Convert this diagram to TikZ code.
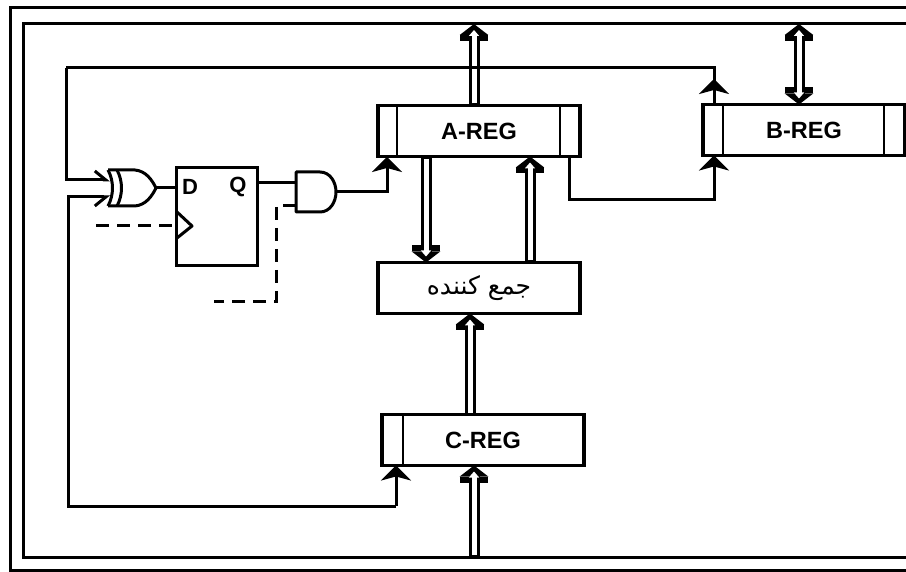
\documentclass[tikz,border=0pt]{standalone}
\usepackage{fontspec}
\setmainfont{Liberation Sans}
\newfontfamily\arabicfont[Script=Arabic]{DejaVu Sans}
\TeXXeTstate=1
\usetikzlibrary{arrows.meta,positioning}
\tikzset{
  wire/.style={line width=3pt},
  sigarrow/.style={wire, -{Stealth[length=15pt,width=30pt,inset=4pt]}},
  gate/.style={line width=3pt, line join=round},
  dashwire/.style={wire, dash pattern=on 13pt off 8pt},
  regbox/.style={draw, line width=3.5pt, inner sep=0pt, outer sep=0pt, minimum width=202pt, minimum height=51pt, font=\bfseries\fontsize{23.5}{24}\selectfont},
  bushead/.style={-{Rectangle[length=6pt,width=28pt,sep=0pt]Triangle[length=11pt,width=28pt,sep=0pt]}},
  businner/.style={draw, white, line width=5pt, shorten <=2pt, shorten >=6pt, -{Triangle[length=6pt,width=10pt]}},
  bus/.style={line width=11pt, bushead, postaction={businner}},
  busboth/.style={line width=11pt,
    {Triangle[length=11pt,width=28pt,sep=0pt]Rectangle[length=6pt,width=28pt,sep=0pt]}-{Rectangle[length=6pt,width=28pt,sep=0pt]Triangle[length=11pt,width=28pt,sep=0pt]},
    postaction={draw, white, line width=5pt, shorten <=6pt, shorten >=6pt, {Triangle[length=6pt,width=10pt]}-{Triangle[length=6pt,width=10pt]}}},
}
\begin{document}
\begin{tikzpicture}[x=1pt, y=-1pt]
\useasboundingbox (0,0) rectangle (906,572);
% frames
\draw[wire] (906,8) -- (10,8) -- (10,570) -- (906,570);
\draw[wire] (906,24) -- (23,24) -- (23,557) -- (906,557);
\coordinate (topbus) at (474,24);
\coordinate (topbusb) at (799,24);
\coordinate (lowbus) at (474,557);
% registers
\node[regbox] (areg) at (479,131) {A-REG};
\node[regbox] (breg) at (804,130) {B-REG};
\node[regbox] (creg) at (483,440) {C-REG};
\node[regbox] (adder) at (479,288) {\arabicfont\mdseries\fontsize{25}{25}\selectfont\beginR جمع کننده\endR};
\foreach \x in {397,560} \draw[line width=2pt] (\x,105) -- (\x,157);
\foreach \x in {723,884} \draw[line width=2pt] (\x,104) -- (\x,156);
\draw[line width=2pt] (403,414) -- (403,466);
% flip-flop
\node[draw, line width=3pt, inner sep=0pt, outer sep=0pt, minimum width=81pt, minimum height=98pt] (dff) at (216.5,217) {};
\node[font=\bfseries\fontsize{22}{22}\selectfont] (dlabel) at (190,187) {D};
\node[font=\bfseries\fontsize{22}{22}\selectfont] (qlabel) at (238,187) {Q};
\draw[gate] (177,212) -- (192,226) -- (177,238);
% gates
\draw[gate] (108,170) -- (135,170) .. controls (146,171) and (152,180) .. (156,188) .. controls (152,196) and (146,205) .. (135,206) -- (108,206);
\draw[gate] (108,170) .. controls (114,181) and (114,195) .. (108,206);
\draw[gate] (117,170) .. controls (123,181) and (123,195) .. (117,206);
\draw[gate] (296,172) -- (320,172) .. controls (330,172) and (336,182) .. (336,192) .. controls (336,202) and (330,212) .. (320,212) -- (296,212) -- cycle;
\coordinate (xorout) at (156,188);
\coordinate (xorin) at (110,180);
\coordinate (xorinb) at (110,197);
\coordinate (andinq) at (296,183);
\coordinate (andinck) at (296,206);
\coordinate (andout) at (336,192);
\coordinate (clka) at (96,226);
\coordinate (clkb) at (214,302);
% buses
\draw[bus] (areg.north -| topbus) -- (topbus);
\draw[busboth] (breg.north -| topbusb) -- (topbusb);
\draw[bus] (426,157) -- (adder.north -| 426,0);
\draw[bus] (adder.north -| 530,0) -- (areg.south -| 530,0);
\draw[bus] (creg.north -| 470,0) -- (adder.south -| 470,0);
\draw[bus] (lowbus) -- (creg.south -| lowbus);
% wires
\draw[wire] (xorout) -- (dff.west |- xorout);
\draw[wire] (dff.east |- andinq) -- (andinq);
\draw[sigarrow] (andout) -| (387,157);
\draw[sigarrow] (areg.south -| 569,0) |- (714,200) -- (breg.south -| 714,0);
\draw[wire, -{Straight Barb[harpoon,length=11pt,width=18pt]}] (66,68) |- (xorin);
\draw[wire, -{Straight Barb[harpoon,swap,length=11pt,width=18pt]}] (396,506) -| (68,197) -- (xorinb);
\draw[sigarrow] (396,506) -- (creg.south -| 396,0);
\draw[wire] (66,68) -| (breg.north -| 714,0);
\draw[sigarrow] (breg.north -| 714,0) -- (714,79);
\draw[dashwire] (clka) -- (dff.west |- clka);
\draw[dashwire] (andinck) -| (276,302) -- (clkb);
\end{tikzpicture}
\end{document}
